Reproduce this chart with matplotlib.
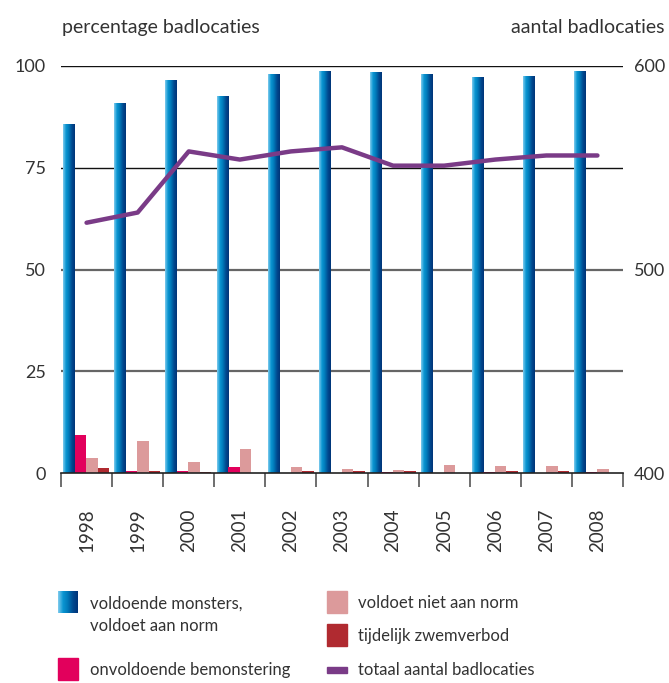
import numpy as np
import matplotlib
matplotlib.use("Agg")
import matplotlib.pyplot as plt
from matplotlib.colors import LinearSegmentedColormap
from matplotlib.patches import Rectangle

plt.rcParams['font.family'] = ['Lato', 'DejaVu Sans']

years = ['1998', '1999', '2000', '2001', '2002', '2003', '2004', '2005', '2006', '2007', '2008']
voldoet_norm = [85.6, 90.7, 96.3, 92.4, 97.8, 98.5, 98.3, 97.8, 97.1, 97.3, 98.5]
onvoldoende = [9.4, 0.6, 0.6, 1.6, 0.0, 0.0, 0.3, 0.0, 0.3, 0.1, 0.3]
voldoet_niet = [3.8, 8.0, 2.8, 6.0, 1.6, 1.0, 0.9, 2.0, 1.8, 1.8, 1.1]
zwemverbod = [1.3, 0.6, 0.4, 0.1, 0.6, 0.6, 0.6, 0.0, 0.6, 0.6, 0.0]
totaal = [523, 528, 558, 554, 558, 560, 551, 551, 554, 556, 556]

c_pink = '#e2005c'
c_lpink = '#dc9a9b'
c_red = '#b02a30'
c_purple = '#7a3b87'
c_text = '#333333'
blue_cmap = LinearSegmentedColormap.from_list(
    'blue', ['#7fcbee', '#0a96d2', '#0078b8', '#004a90', '#003478'])

fig = plt.figure(figsize=(6.69, 6.83), dpi=100)
ax = fig.add_axes([0.0912, 0.307, 0.84, 0.5966])
ax2 = ax.twinx()

x = np.arange(len(years))
w = 0.225
grad = np.linspace(0, 1, 64).reshape(1, -1)

# gridlines
for v in [25, 50]:
    ax.axhline(v, color='#666666', lw=1.6, zorder=1)
for v in [75, 100]:
    ax.axhline(v, color='#111111', lw=1.0, zorder=1)

# blue bars with horizontal gradient
bars = ax.bar(x - 0.343, voldoet_norm, w, color='none', zorder=2)
for b in bars:
    x0, y0 = b.get_x(), b.get_y()
    ax.imshow(grad, cmap=blue_cmap, aspect='auto', zorder=2,
              extent=[x0, x0 + b.get_width(), y0, y0 + b.get_height()])
ax.bar(x - 0.118, onvoldoende, w, color=c_pink, zorder=2)
ax.bar(x + 0.107, voldoet_niet, w, color=c_lpink, zorder=2)
ax.bar(x + 0.332, zwemverbod, w, color=c_red, zorder=2)

ax.set_xlim(-0.5, len(years) - 0.5)
ax.set_ylim(0, 100)
ax.set_yticks([0, 25, 50, 75, 100])
ax.set_xticks(x)
ax.set_xticklabels(years, rotation=90)
ax.set_xticks(np.arange(-0.5, len(years)), minor=True)
ax.tick_params(axis='x', which='major', length=0, pad=25, labelsize=13.5, labelcolor=c_text)
ax.tick_params(axis='x', which='minor', length=10, width=1.2, color='#555555', direction='out')
ax.tick_params(axis='y', length=0, pad=11, labelsize=13, labelcolor=c_text)
for s in ['top', 'left', 'right']:
    ax.spines[s].set_visible(False)
    ax2.spines[s].set_visible(False)
ax.spines['bottom'].set_color('#222222')
ax.spines['bottom'].set_linewidth(1.2)
ax2.spines['bottom'].set_visible(False)

ax2.plot(x, totaal, color=c_purple, lw=3.2, solid_capstyle='round', zorder=3)
ax2.set_ylim(400, 600)
ax2.set_yticks([400, 500, 600])
ax2.tick_params(axis='y', length=0, pad=8, labelsize=13, labelcolor=c_text)

fig.text(0.092, 0.952, 'percentage badlocaties', fontsize=14, color=c_text, va='baseline')
fig.text(0.994, 0.952, 'aantal badlocaties', fontsize=14, color=c_text, va='baseline', ha='right')

# legend
def patch_grad(px, py):
    lax = fig.add_axes([px / 669, 1 - (py + 22) / 683, 20 / 669, 22 / 683])
    lax.imshow(grad, cmap=blue_cmap, aspect='auto')
    lax.axis('off')

def patch(px, py, color, h=22):
    fig.patches.append(Rectangle((px / 669, 1 - (py + h) / 683), 20 / 669, h / 683,
                                 transform=fig.transFigure, color=color))

fs = 12
patch_grad(58, 591)
fig.text(90 / 669, 1 - 596 / 683, 'voldoende monsters,\nvoldoet aan norm', fontsize=fs,
         color=c_text, va='top', linespacing=1.45)
patch(58, 658, c_pink)
fig.text(90 / 669, 1 - 670 / 683, 'onvoldoende bemonstering', fontsize=fs, color=c_text, va='center')
patch(327, 591, c_lpink)
fig.text(358 / 669, 1 - 603 / 683, 'voldoet niet aan norm', fontsize=fs, color=c_text, va='center')
patch(327, 624, c_red)
fig.text(358 / 669, 1 - 636 / 683, 'tijdelijk zwemverbod', fontsize=fs, color=c_text, va='center')
patch(327, 667, c_purple, h=6)
fig.text(358 / 669, 1 - 670 / 683, 'totaal aantal badlocaties', fontsize=fs, color=c_text, va='center')

fig.savefig('out.png', dpi=100)
